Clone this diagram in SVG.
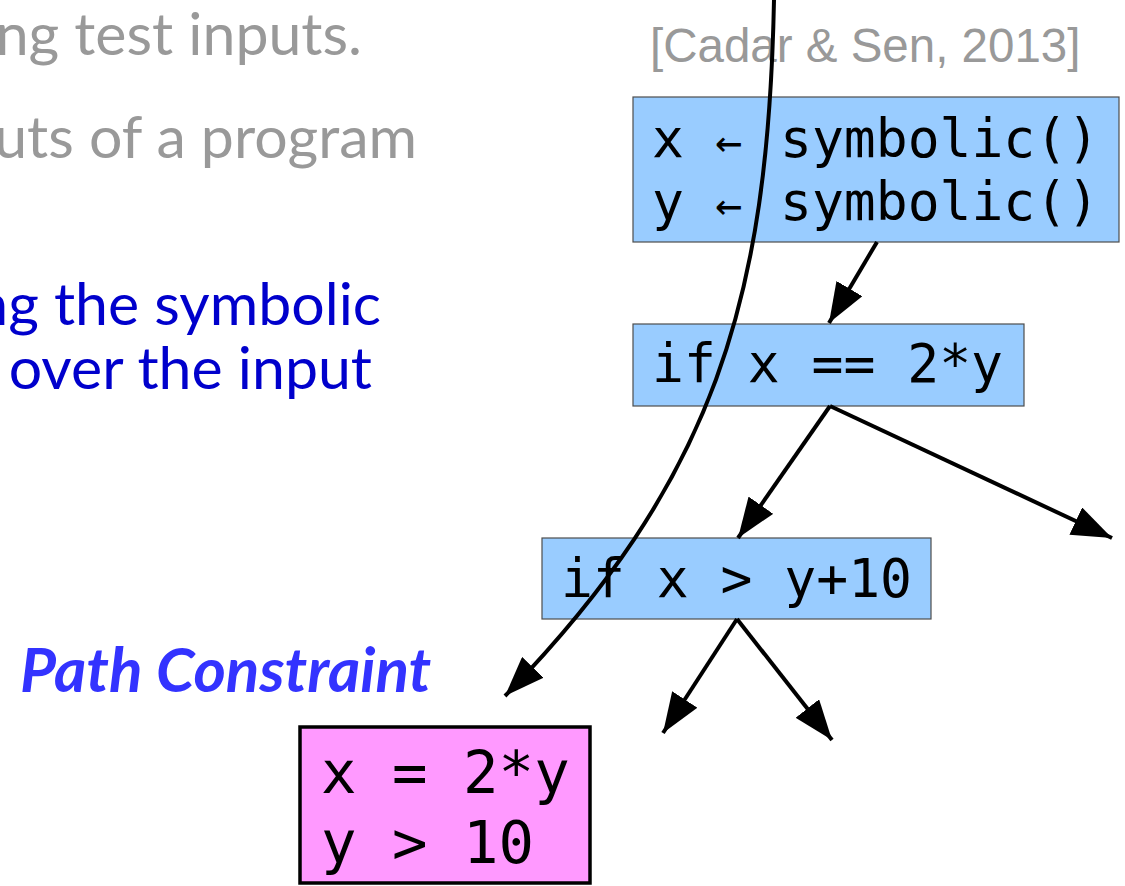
<svg xmlns="http://www.w3.org/2000/svg" width="1125" height="886" viewBox="0 0 1125 886">
<style>
.body{font-family:Lato,"Noto Sans",sans-serif;font-size:59px;text-anchor:end}
.gray{fill:#999999}
.blue{fill:#0000cc}
.cite{font-family:"Liberation Sans",Arial,sans-serif;font-size:47.5px;fill:#999999}
.code{font-family:"DejaVu Sans Mono",monospace;font-size:53px;fill:#000}
.arrow{font-size:45px}
.pc{font-family:"DejaVu Sans Mono",monospace;font-size:59px;fill:#000}
.node{fill:#99ccff;stroke:#4d4d4d;stroke-width:1.2}
.pcbox{fill:#ff99ff;stroke:#000;stroke-width:3.5}
.label{font-family:Lato,"Noto Sans",sans-serif;font-size:62px;font-weight:bold;font-style:italic;fill:#3333ff}
.edge{fill:none;stroke:#000;stroke-width:4;marker-end:url(#arr)}
</style>
<defs>
<marker id="arr" viewBox="0 0 40 30" markerWidth="40" markerHeight="30" refX="40" refY="15" orient="auto" markerUnits="userSpaceOnUse">
<path d="M0,0 L40,15 L0,30 z" fill="#000"/>
</marker>
</defs>
<g id="text-left">
<text class="body gray" x="362" y="55">ng test inputs.</text>
<text class="body gray" x="417" y="158">uts of a program</text>
<text class="body blue" x="381" y="325">ng the symbolic</text>
<text class="body blue" x="372" y="389">over the input</text>
</g>
<text class="cite" x="650" y="62">[Cadar &amp; Sen, 2013]</text>
<g id="node-init">
<rect class="node" x="633" y="97" width="486" height="145"/>
<text class="code" x="652" y="157">x<tspan class="arrow" x="715">←</tspan><tspan x="780">symbolic()</tspan></text>
<text class="code" x="652" y="220">y<tspan class="arrow" x="715">←</tspan><tspan x="780">symbolic()</tspan></text>
</g>
<g id="node-if1">
<rect class="node" x="633" y="324" width="391" height="82"/>
<text class="code" x="652" y="382" xml:space="preserve">if x == 2*y</text>
</g>
<g id="node-if2">
<rect class="node" x="542" y="538" width="389" height="81"/>
<text class="code" x="561" y="597" xml:space="preserve">if x &gt; y+10</text>
</g>
<g id="node-pc">
<rect class="pcbox" x="300" y="727" width="290" height="156"/>
<text class="pc" x="321" y="793" xml:space="preserve">x = 2*y</text>
<text class="pc" x="321" y="863" xml:space="preserve">y &gt; 10</text>
</g>
<text id="label-pc" class="label" x="20" y="692">Path Constraint</text>
<g id="connectors">
<line class="edge" x1="877" y1="242" x2="829" y2="323"/>
<line class="edge" x1="830" y1="406" x2="738" y2="538"/>
<line class="edge" x1="830" y1="406" x2="1112" y2="538"/>
<line class="edge" x1="737" y1="619" x2="663" y2="733"/>
<line class="edge" x1="737" y1="619" x2="832" y2="740"/>
<path class="edge" d="M774,0 C768,300 715,480 505,696"/>
</g>
</svg>
